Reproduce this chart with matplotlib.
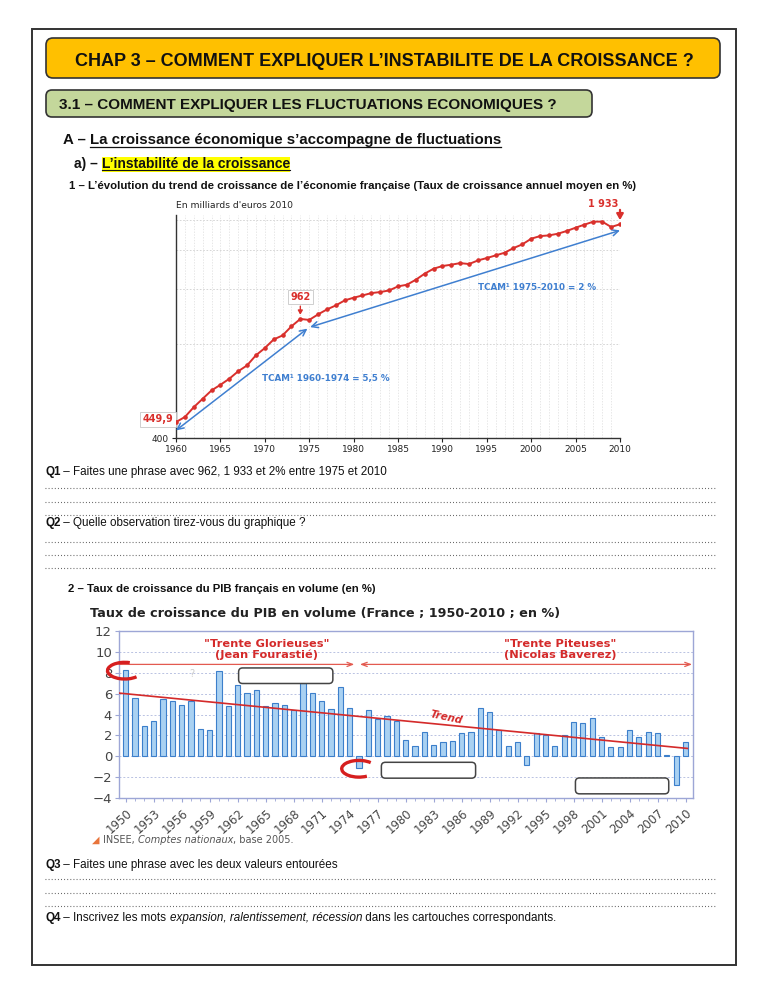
import matplotlib

matplotlib.use("Agg")
import matplotlib.pyplot as plt  # noqa: E402
from matplotlib.lines import Line2D  # noqa: E402
from matplotlib.patches import Arc, FancyBboxPatch, Rectangle  # noqa: E402
from matplotlib.ticker import MultipleLocator, NullLocator  # noqa: E402
from matplotlib.transforms import Affine2D, IdentityTransform  # noqa: E402

W, H = 768, 994

# --- chart 1: PIB en milliards d'euros 2010 ---------------------------------
gdp_years = list(range(1960, 2011))
gdp_values = [
    449.9, 467, 502, 534, 568, 592, 619, 654, 683, 736,
    776, 827, 852, 911, 962, 955, 995, 1032, 1063, 1103,
    1125, 1144, 1164, 1173, 1187, 1223, 1238, 1284, 1343, 1393,
    1421, 1435, 1452, 1442, 1481, 1507, 1537, 1567, 1622, 1667,
    1738, 1772, 1781, 1803, 1840, 1885, 1928, 1971, 1971, 1895, 1933,
]
tcam_a_years = [1960, 1974.8]
tcam_a_values = [423, 896]
tcam_b_years = [1975.1, 2010]
tcam_b_values = [906, 1848]
gdp_grid = [800, 1200, 1600, 2000]

# --- chart 2: taux de croissance du PIB en volume ----------------------------
growth_years = list(range(1950, 2011))
growth_values = [
    8.3, 5.6, 2.9, 3.4, 5.5, 5.3, 4.9, 5.3, 2.6, 2.5,
    8.2, 4.8, 6.8, 6.1, 6.3, 4.8, 5.1, 4.9, 4.4, 7.0,
    6.1, 5.3, 4.5, 6.6, 4.6, -1.1, 4.4, 3.6, 3.9, 3.4,
    1.6, 1.0, 2.3, 1.1, 1.4, 1.5, 2.2, 2.3, 4.6, 4.2,
    2.5, 1.0, 1.4, -0.8, 2.2, 2.0, 1.0, 2.0, 3.3, 3.2,
    3.7, 1.8, 0.9, 0.9, 2.5, 1.8, 2.3, 2.2, 0.1, -2.8, 1.4,
]
trend_years = [1949.3, 2010.2]
trend_values = [6.05, 0.75]
# empty answer boxes: (year left, year right, value bottom, value top)
cartouches = [
    (1962.1, 1972.2, 6.97, 8.46),
    (1977.4, 1987.5, -2.1, -0.58),
    (1998.2, 2008.2, -3.6, -2.08),
]
# hand-drawn circles round two values: (year, value, theta1, theta2)
circled = [(1949.9, 8.2, 55, 335), (1975.0, -1.2, 25, 320)]

SANS = "Liberation Sans"
RED1 = "#d9302c"
BLUE1 = "#3f7fd0"
RED2 = "#d42a2a"
BAR = "#a9d1f2"
BAR_EDGE = "#3c7fcb"
FRAME2 = "#9da6d6"
QSIZE = 8.4

fig = plt.figure(figsize=(W / 100, H / 100), dpi=100)
PX = Affine2D().scale(1 / W, -1 / H).translate(0, 1) + fig.transFigure
R = fig.canvas.get_renderer()


def measure(s, **kw):
    a = fig.text(0, 0, "|" + s + "|", **kw)
    b = fig.text(0, 0, "||", **kw)
    w = a.get_window_extent(R).width - b.get_window_extent(R).width
    a.remove()
    b.remove()
    return w


def runs(x, y, parts, size, family=SANS, color="#111"):
    """Left-to-right text pieces on one baseline; returns their x spans."""
    spans = []
    for s, weight, style in parts:
        kw = dict(fontsize=size, fontweight=weight, fontstyle=style, family=family)
        fig.text(x, y, s, transform=PX, va="baseline", color=color, **kw)
        w = measure(s, **kw)
        spans.append((x, x + w))
        x += w
    return spans


def underline(x0, x1, y, lw=0.9):
    fig.add_artist(Line2D([x0, x1], [y, y], transform=PX, color="#111", lw=lw))


def dots(y):
    fig.add_artist(Line2D([45, 715], [y, y], transform=PX, color="#555",
                          lw=0.8, ls=(0, (0.8, 2.0))))


# page frame and headers
fig.add_artist(Rectangle((32, 29), 704, 936, transform=PX, fill=False, ec="#333", lw=1.4))
fig.add_artist(FancyBboxPatch((46, 38), 674, 40, boxstyle="round,pad=0,rounding_size=7",
                              transform=PX, fc="#ffc000", ec="#333", lw=1.2))
fig.add_artist(FancyBboxPatch((46, 90), 546, 27, boxstyle="round,pad=0,rounding_size=6",
                              transform=PX, fc="#c4d79b", ec="#333", lw=1.2))
fig.text(384, 65.5, "CHAP 3 – COMMENT EXPLIQUER L’INSTABILITE DE LA CROISSANCE ?",
         transform=PX, ha="center", va="baseline", fontsize=13, fontweight="bold",
         family=SANS, color="#111")
runs(59, 109.5, [("3.1 – COMMENT EXPLIQUER LES FLUCTUATIONS ECONOMIQUES ?", "bold", "normal")], 11)

sp = runs(63, 144, [("A – ", "bold", "normal"),
                    ("La croissance économique s’accompagne de fluctuations", "bold", "normal")], 10.8)
underline(sp[1][0], sp[1][1], 146.5)

sp = runs(74, 168, [("a) – ", "bold", "normal"),
                    ("L’instabilité de la croissance", "bold", "normal")], 10)
fig.add_artist(Rectangle((sp[1][0], 156.5), sp[1][1] - sp[1][0], 15, transform=PX,
                         fc="#ffff00", ec="none", zorder=0.5))
underline(sp[1][0], sp[1][1], 170.2, lw=0.8)

runs(69, 189, [("1 – L’évolution du trend de croissance de l’économie française "
                "(Taux de croissance annuel moyen en %)", "bold", "normal")], 8.2)

# ---------------------------------------------------------------- chart 1
ax1 = fig.add_axes([176 / W, 1 - 438 / H, 444 / W, 223 / H])
ax1.set_yscale("log")
ax1.set_xlim(1960, 2010)
ax1.set_ylim(400, 2070)
for v in gdp_grid:
    ax1.axhline(v, color="#cfcfcf", lw=0.6, ls=(0, (2, 2)), zorder=0)
ax1.set_xticks(range(1960, 2011, 5))
ax1.xaxis.set_minor_locator(MultipleLocator(1))
ax1.grid(which="both", axis="x", color="#dddddd", lw=0.5, ls=(0, (2, 2)), zorder=0)
ax1.set_yticks([400])
ax1.set_yticklabels(["400"])
ax1.yaxis.set_minor_locator(NullLocator())
ax1.tick_params(axis="both", which="major", length=3, width=0.8, labelsize=6.5,
                pad=2, colors="#222")
ax1.tick_params(axis="x", which="minor", length=0)
for side in ("top", "right"):
    ax1.spines[side].set_visible(False)
for side in ("left", "bottom"):
    ax1.spines[side].set_color("#333")
    ax1.spines[side].set_linewidth(1.0)

ax1.plot(gdp_years, gdp_values, color=RED1, lw=1.4, marker="o", ms=2.3, zorder=4)
arrow_kw = dict(arrowstyle="<->,head_length=0.45,head_width=0.22", color=BLUE1,
                lw=1.1, shrinkA=0, shrinkB=0)
ax1.annotate("", xy=(tcam_a_years[1], tcam_a_values[1]),
             xytext=(tcam_a_years[0], tcam_a_values[0]), arrowprops=arrow_kw,
             annotation_clip=False)
ax1.annotate("", xy=(tcam_b_years[1], tcam_b_values[1]),
             xytext=(tcam_b_years[0], tcam_b_values[0]), arrowprops=arrow_kw,
             annotation_clip=False)
ax1.text(1976.9, 618, "TCAM¹ 1960-1974 = 5,5 %", color=BLUE1, fontsize=6.3,
         fontweight="bold", ha="center", va="center")
ax1.text(2000.7, 1217, "TCAM¹ 1975-2010 = 2 %", color=BLUE1, fontsize=6.3,
         fontweight="bold", ha="center", va="center")

lab_box = dict(boxstyle="square,pad=0.25", fc="white", ec="#c8c8c8", lw=0.6)
ax1.text(1959.7, gdp_values[0] * 1.02, "449,9", color=RED1, fontsize=7, fontweight="bold",
         ha="right", va="center", bbox=lab_box, clip_on=False)
ax1.annotate("962", xy=(1974, gdp_values[14]), xytext=(1974, 1090), color=RED1,
             fontsize=7, fontweight="bold", ha="center", va="bottom", bbox=lab_box,
             arrowprops=dict(arrowstyle="-|>,head_length=0.35,head_width=0.2",
                             color=RED1, lw=1.0, shrinkA=1, shrinkB=3))
ax1.text(2008.1, 2243, "1 933", color=RED1, fontsize=7, fontweight="bold",
         ha="center", va="center", clip_on=False)
ax1.annotate("", xy=(2010, gdp_values[-1]), xytext=(2010, 2150),
             arrowprops=dict(arrowstyle="-|>,head_length=0.35,head_width=0.2",
                             color=RED1, lw=1.6, shrinkA=0, shrinkB=3),
             annotation_clip=False)
fig.text(176, 208, "En milliards d'euros 2010", transform=PX, fontsize=6.6,
         color="#222", va="baseline")

# questions 1 and 2
runs(45, 475, [("Q1", "bold", "normal"),
               (" – Faites une phrase avec 962, 1 933 et 2% entre 1975 et 2010", "normal", "normal")], QSIZE)
for y in (488, 502, 515):
    dots(y)
runs(45, 526, [("Q2", "bold", "normal"),
               (" – Quelle observation tirez-vous du graphique ?", "normal", "normal")], QSIZE)
for y in (542, 555, 568):
    dots(y)
runs(68, 592, [("2 – Taux de croissance du PIB français en volume (en %)", "bold", "normal")], 8.2)

# ---------------------------------------------------------------- chart 2
fig.text(90, 617.5, "Taux de croissance du PIB en volume (France ; 1950-2010 ; en %)",
         transform=PX, fontsize=9.2, fontweight="bold", color="#222", va="baseline")
ax2 = fig.add_axes([119 / W, 1 - 798 / H, 574 / W, 167 / H])
ax2.set_xlim(1949.28, 2010.8)
ax2.set_ylim(-4, 12)
ax2.bar(growth_years, growth_values, width=0.55, color=BAR, edgecolor=BAR_EDGE,
        lw=0.8, zorder=2)
ax2.set_yticks(range(-4, 13, 2))
ax2.set_xticks(range(1950, 2011, 3))
ax2.set_xticklabels([str(y) for y in range(1950, 2011, 3)], rotation=42,
                    ha="right", va="top", rotation_mode="anchor")
ax2.xaxis.set_minor_locator(MultipleLocator(1))
ax2.grid(axis="y", color="#b9c2e2", lw=0.7, ls=(0, (2, 2)), zorder=0)
ax2.tick_params(axis="both", length=3, width=0.8, color=FRAME2, labelcolor="#444",
                pad=2)
ax2.tick_params(axis="y", labelsize=9.5)
ax2.tick_params(axis="x", labelsize=8.4, pad=3)
ax2.tick_params(axis="x", which="minor", length=2, color=FRAME2)
for s in ax2.spines.values():
    s.set_color(FRAME2)
    s.set_linewidth(1.0)

ax2.plot(trend_years, trend_values, color=RED2, lw=1.2, zorder=4)
ax2.text(1984.4, 3.75, "Trend", color=RED2, fontsize=7.5, fontweight="bold",
         fontstyle="italic", rotation=-12, ha="center", va="center", zorder=5)

per_kw = dict(color="#e35a50", lw=0.9, shrinkA=0, shrinkB=0)
ax2.annotate("", xy=(1974.5, 8.8), xytext=(1949.28, 8.8),
             arrowprops=dict(arrowstyle="->,head_length=0.4,head_width=0.15", **per_kw))
ax2.annotate("", xy=(2010.7, 8.8), xytext=(1975.1, 8.8),
             arrowprops=dict(arrowstyle="<->,head_length=0.4,head_width=0.15", **per_kw),
             annotation_clip=False)
ax2.text(1965.1, 10.8, "\"Trente Glorieuses\"", color=RED2, fontsize=8.2,
         fontweight="bold", ha="center", va="center")
ax2.text(1965.1, 9.7, "(Jean Fourastié)", color=RED2, fontsize=8.2,
         fontweight="bold", ha="center", va="center")
ax2.text(1996.6, 10.8, "\"Trente Piteuses\"", color=RED2, fontsize=8.2,
         fontweight="bold", ha="center", va="center")
ax2.text(1996.6, 9.7, "(Nicolas Baverez)", color=RED2, fontsize=8.2,
         fontweight="bold", ha="center", va="center")
ax2.text(1957.1, 7.9, "?", color="#cccccc", fontsize=7, ha="center", va="center")

for yr, v, t1, t2 in circled:
    ax2.add_patch(Arc((yr, v), width=3.7, height=1.6, theta1=t1, theta2=t2,
                      color="#d61f1f", lw=2.4, zorder=7, clip_on=False))

for x0, x1, y0, y1 in cartouches:
    (p0x, p0y), (p1x, p1y) = ax2.transData.transform([(x0, y0), (x1, y1)])
    fig.add_artist(FancyBboxPatch((p0x, p0y), p1x - p0x, p1y - p0y,
                                  boxstyle="round,pad=0,rounding_size=4",
                                  transform=IdentityTransform(), fc="white",
                                  ec="#444", lw=1.1, zorder=6))

runs(92, 843, [("◢", "normal", "normal")], 7, family="DejaVu Sans", color="#e8743b")
runs(103, 843, [("INSEE, ", "normal", "normal"), ("Comptes nationaux", "normal", "italic"),
                (", base 2005.", "normal", "normal")], 7, family="DejaVu Sans", color="#555")

# questions 3 and 4
runs(45, 868, [("Q3", "bold", "normal"),
               (" – Faites une phrase avec les deux valeurs entourées", "normal", "normal")], QSIZE)
for y in (879, 893, 906):
    dots(y)
runs(45, 921, [("Q4", "bold", "normal"), (" – Inscrivez les mots ", "normal", "normal"),
               ("expansion, ralentissement, récession", "normal", "italic"),
               (" dans les cartouches correspondants.", "normal", "normal")], QSIZE)

fig.savefig("out.png", dpi=100)
plt.close(fig)
